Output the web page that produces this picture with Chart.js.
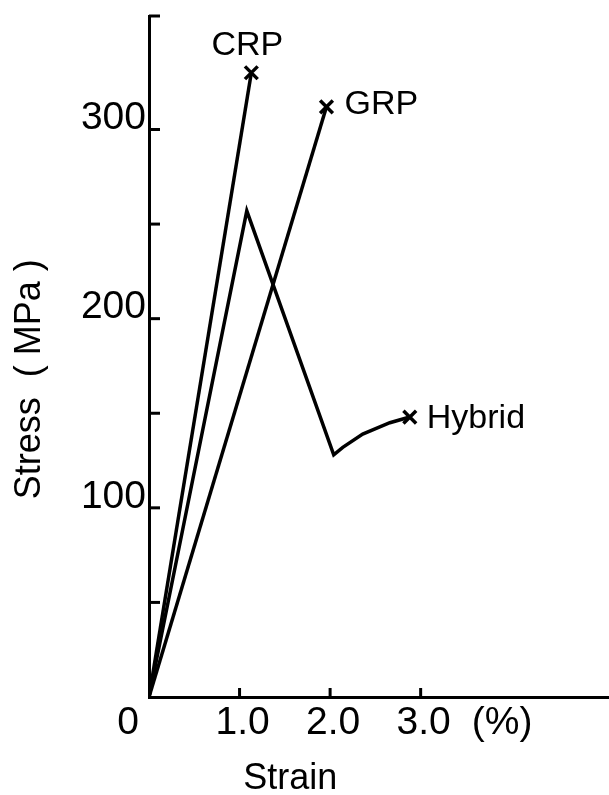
<!DOCTYPE html>
<html>
<head>
<meta charset="utf-8">
<style>
  html, body { margin: 0; padding: 0; background: #fff; }
  #wrap { width: 609px; height: 795px; }
</style>
<script src="https://cdn.jsdelivr.net/npm/chart.js@4.4.1/dist/chart.umd.min.js"></script>
</head>
<body>
<div id="wrap"><canvas id="stressChart" width="609" height="795"></canvas></div>
<script>
'use strict';
// values: strain in %, stress in MPa
var crpStrain = [0, 1.13];
var crpStress = [0, 330];
var grpStrain = [0, 1.96];
var grpStress = [0, 312];
var hybridStrain = [0, 1.08, 2.04, 2.14, 2.36, 2.66, 2.88];
var hybridStress = [0, 257, 128, 132, 139, 145, 148];

var seriesNames = ['CRP', 'GRP', 'Hybrid'];
var xTickValues = [1, 2, 3];
var xTickLabels = ['1.0', '2.0', '3.0'];
var yTickValues = [50, 100, 150, 200, 250, 300, 360];
var yLabelValues = [100, 200, 300];
var yLabelTexts = ['100', '200', '300'];

(function stressStrain () {
    var FONT = '"Liberation Sans", Arial, sans-serif';

    function toPoints (xs, ys) {
        return xs.map(function (x, i) { return { x: x, y: ys[i] }; });
    }

    function endOnly (ctx) {
        return ctx.dataIndex === ctx.dataset.data.length - 1 ? 9 : 0;
    }

    function series (label, xs, ys) {
        return {
            label: label,
            data: toPoints(xs, ys),
            showLine: true,
            borderColor: '#000',
            borderWidth: 3.5,
            tension: 0,
            pointStyle: 'crossRot',
            pointRadius: endOnly,
            pointHoverRadius: endOnly,
            pointBorderWidth: 3.5,
            pointBorderColor: '#000',
            pointBackgroundColor: '#000'
        };
    }

    // hand drawn style ticks, labels and series names
    var annotate = {
        id: 'annotate',
        afterDraw: function (chart) {
            var c = chart.ctx;
            var xs = chart.scales.x;
            var ys = chart.scales.y;
            var x0 = xs.getPixelForValue(0);
            var y0 = ys.getPixelForValue(0);

            c.save();
            c.strokeStyle = '#000';
            c.fillStyle = '#000';
            c.lineWidth = 3;

            // y ticks pointing inward
            yTickValues.forEach(function (v) {
                var py = ys.getPixelForValue(v);
                c.beginPath();
                c.moveTo(x0, py);
                c.lineTo(x0 + 11, py);
                c.stroke();
            });
            // x ticks pointing up
            xTickValues.forEach(function (v) {
                var px = xs.getPixelForValue(v);
                c.beginPath();
                c.moveTo(px, y0);
                c.lineTo(px, y0 - 9);
                c.stroke();
            });

            c.font = '39px ' + FONT;
            c.textBaseline = 'middle';

            c.textAlign = 'right';
            yLabelValues.forEach(function (v, i) {
                c.fillText(yLabelTexts[i], x0 - 3, ys.getPixelForValue(v) - 11);
            });

            c.textAlign = 'center';
            c.fillText('0', x0 - 21, y0 + 26);
            xTickValues.forEach(function (v, i) {
                c.fillText(xTickLabels[i], xs.getPixelForValue(v) + 3, y0 + 26);
            });
            c.fillText('(%)', xs.getPixelForValue(3.9), y0 + 26);

            // axis titles
            c.font = '36px ' + FONT;
            c.fillText('Strain', xs.getPixelForValue(1.56), y0 + 82);
            c.save();
            c.translate(30, ys.getPixelForValue(168));
            c.rotate(-Math.PI / 2);
            c.fillText('Stress  ( MPa )', 0, 0);
            c.restore();

            // series names near the broken ends
            c.font = '34px ' + FONT;
            c.fillText(seriesNames[0], xs.getPixelForValue(crpStrain[1]) - 4,
                ys.getPixelForValue(crpStress[1]) - 27);
            c.textAlign = 'left';
            c.fillText(seriesNames[1], xs.getPixelForValue(grpStrain[1]) + 18,
                ys.getPixelForValue(grpStress[1]) - 2);
            var last = hybridStrain.length - 1;
            c.fillText(seriesNames[2], xs.getPixelForValue(hybridStrain[last]) + 17,
                ys.getPixelForValue(hybridStress[last]) + 2);
            c.restore();
        }
    };

    var ctx = document.getElementById('stressChart').getContext('2d');

    new Chart(ctx, {
        type: 'scatter',
        data: {
            datasets: [
                series(seriesNames[0], crpStrain, crpStress),
                series(seriesNames[1], grpStrain, grpStress),
                series(seriesNames[2], hybridStrain, hybridStress)
            ]
        },
        options: {
            responsive: false,
            animation: false,
            layout: {
                autoPadding: false,
                padding: { left: 149, top: 16, right: 0, bottom: 98 }
            },
            plugins: {
                legend: { display: false },
                tooltip: { enabled: false }
            },
            scales: {
                x: {
                    type: 'linear',
                    min: 0,
                    max: 5.08,
                    grid: { display: false, drawTicks: false, tickLength: 0 },
                    ticks: { display: false, padding: 0 },
                    border: { display: true, color: '#000', width: 3 }
                },
                y: {
                    type: 'linear',
                    min: 0,
                    max: 360,
                    grid: { display: false, drawTicks: false, tickLength: 0 },
                    ticks: { display: false, padding: 0 },
                    border: { display: true, color: '#000', width: 3 }
                }
            }
        },
        plugins: [annotate]
    });
}());
</script>
</body>
</html>
